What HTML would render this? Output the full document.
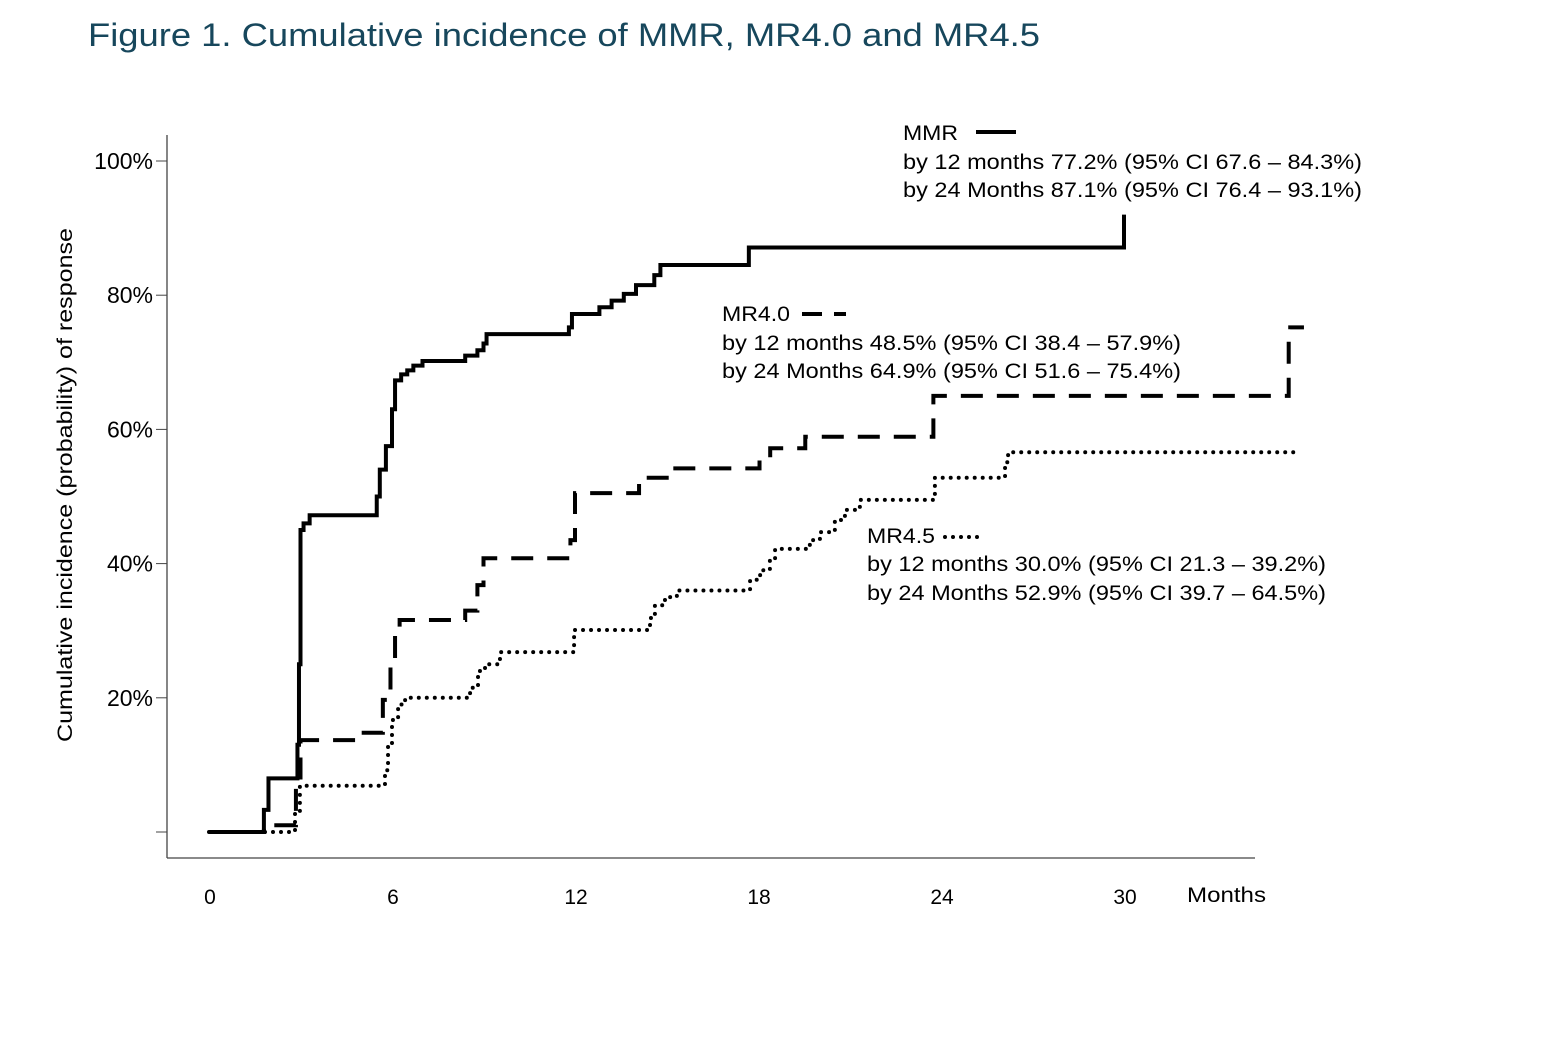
<!DOCTYPE html>
<html><head><meta charset="utf-8"><style>
body{margin:0;background:#fff;}
svg text{font-family:"Liberation Sans",Arial,sans-serif;}
</style></head><body>
<svg id="chart" width="1542" height="1036" xmlns="http://www.w3.org/2000/svg">
<text x="88" y="46" font-size="32" fill="#17475c" textLength="952" lengthAdjust="spacingAndGlyphs">Figure 1.  Cumulative incidence of MMR, MR4.0 and MR4.5</text>
<line x1="167" y1="135" x2="167" y2="858" stroke="#444" stroke-width="1.3"/>
<line x1="167" y1="858" x2="1255" y2="858" stroke="#444" stroke-width="1.3"/>
<text transform="translate(72,485) rotate(-90)" text-anchor="middle" font-size="21" textLength="514" lengthAdjust="spacingAndGlyphs">Cumulative incidence (probability)  of response</text>
<text x="1187" y="902" font-size="21" textLength="79" lengthAdjust="spacingAndGlyphs">Months</text>
<g id="ticks"></g>
<g id="series"></g>
<g font-size="21">
<text x="903" y="140" textLength="55" lengthAdjust="spacingAndGlyphs">MMR</text><line x1="976" y1="132" x2="1016" y2="132" stroke="#000" stroke-width="4"/>
<text x="903" y="169" textLength="459" lengthAdjust="spacingAndGlyphs">by 12 months 77.2% (95% CI 67.6 – 84.3%)</text>
<text x="903" y="197" textLength="459" lengthAdjust="spacingAndGlyphs">by 24 Months 87.1% (95% CI 76.4 – 93.1%)</text></g>
<g font-size="21">
<text x="722" y="321" textLength="68" lengthAdjust="spacingAndGlyphs">MR4.0</text><line x1="802" y1="314" x2="846" y2="314" stroke="#000" stroke-width="4" stroke-dasharray="20 12"/>
<text x="722" y="350" textLength="459" lengthAdjust="spacingAndGlyphs">by 12 months 48.5% (95% CI 38.4 – 57.9%)</text>
<text x="722" y="378" textLength="459" lengthAdjust="spacingAndGlyphs">by 24 Months 64.9% (95% CI 51.6 – 75.4%)</text></g>
<g font-size="21">
<text x="867" y="543" textLength="68" lengthAdjust="spacingAndGlyphs">MR4.5</text><line x1="945" y1="537" x2="980" y2="537" stroke="#000" stroke-width="4" stroke-dasharray="0 8" stroke-linecap="round"/>
<text x="867" y="571" textLength="459" lengthAdjust="spacingAndGlyphs">by 12 months 30.0% (95% CI 21.3 – 39.2%)</text>
<text x="867" y="600" textLength="459" lengthAdjust="spacingAndGlyphs">by 24 Months 52.9% (95% CI 39.7 – 64.5%)</text></g>
</svg>
<script>
const xTicks=[0,6,12,18,24,30];
const yTicks=[0,20,40,60,80,100];
const yTickLabels=["","20%","40%","60%","80%","100%"];
const mmrT=[0,1.8,1.95,2.9,2.95,3.0,3.1,3.3,5.5,5.6,5.8,6.0,6.1,6.3,6.5,6.7,7.0,8.4,8.8,9.0,9.1,11.8,11.9,12.8,13.2,13.6,14.0,14.6,14.8,17.7,30.0];
const mmrV=[0,3.3,8.0,13,25,45,46,47.2,50,54,57.5,63,67.3,68.2,68.8,69.5,70.2,71,71.8,72.8,74.2,75.2,77.2,78.2,79.2,80.2,81.5,83,84.5,87.1,92];
const mmrEnd=30.0;
const mr40T=[0,1.8,2.85,3.0,4.9,5.7,5.95,6.1,6.25,8.4,8.8,9.0,11.85,12.0,14.1,15.1,18.05,18.4,19.55,23.75,35.4,35.45];
const mr40V=[0,1,7,13.7,14.8,19.7,25,29.8,31.6,33,36.8,40.8,43.5,50.5,52.8,54.2,55.7,57.2,58.9,65,73.6,75.2];
const mr40End=35.9;
const mr45T=[0,2.82,2.98,5.77,5.87,6.0,6.2,6.43,8.56,8.82,9.05,9.54,11.97,14.46,14.62,14.95,15.34,17.74,18.07,18.39,18.56,19.7,20.03,20.52,20.85,21.34,23.8,26.1,26.2];
const mr45V=[0,3,6.9,9.2,13,16.7,19,20,21.5,24,25,26.8,30.1,31.9,33.8,35,36,37.6,39,40.5,42.2,43.5,44.7,46.5,48,49.5,52.8,55.1,56.6];
const mr45End=35.67;

const NS="http://www.w3.org/2000/svg";
const xs=m=>209+m*30.5, ys=p=>832-p*6.71;
const tg=document.getElementById('ticks');
xTicks.forEach(t=>{
 const tx=document.createElementNS(NS,'text');
 tx.setAttribute('x',xs(t)+1);tx.setAttribute('y',904);tx.setAttribute('text-anchor','middle');tx.setAttribute('font-size','21');
 tx.textContent=t;
 
 
 tg.appendChild(tx);
});
yTicks.forEach((t,i)=>{
 const l=document.createElementNS(NS,'line');
 l.setAttribute('x1',156);l.setAttribute('x2',167);l.setAttribute('y1',ys(t));l.setAttribute('y2',ys(t));l.setAttribute('stroke','#444');
 
 
 tg.appendChild(l);
 const tx=document.createElementNS(NS,'text');
 tx.setAttribute('x',153);tx.setAttribute('y',ys(t)+8);tx.setAttribute('text-anchor','end');tx.setAttribute('font-size','23');
 tx.textContent=yTickLabels[i];
 
 
 tg.appendChild(tx);
});
function step(T,V,end){
 let d='M'+xs(T[0])+' '+ys(V[0]);
 for(let i=1;i<T.length;i++){d+=' H'+xs(T[i])+' V'+ys(V[i]);}
 d+=' H'+xs(end);return d;
}
const sg=document.getElementById('series');
function addLine(T,V,end,dash,cap,name){
 const p=document.createElementNS(NS,'path');
 p.setAttribute('d',step(T,V,end));p.setAttribute('fill','none');p.setAttribute('stroke','#000');
 p.setAttribute('stroke-width','4');
 if(dash)p.setAttribute('stroke-dasharray',dash);
 p.setAttribute('stroke-linecap',cap);
 
 
 sg.appendChild(p);
}
addLine(mr45T,mr45V,mr45End,'0 8','round','mr45-line');
addLine(mr40T,mr40V,mr40End,'22 14','butt','mr40-line');
addLine(mmrT,mmrV,mmrEnd,null,'butt','mmr-line');
</script>
</body></html>
